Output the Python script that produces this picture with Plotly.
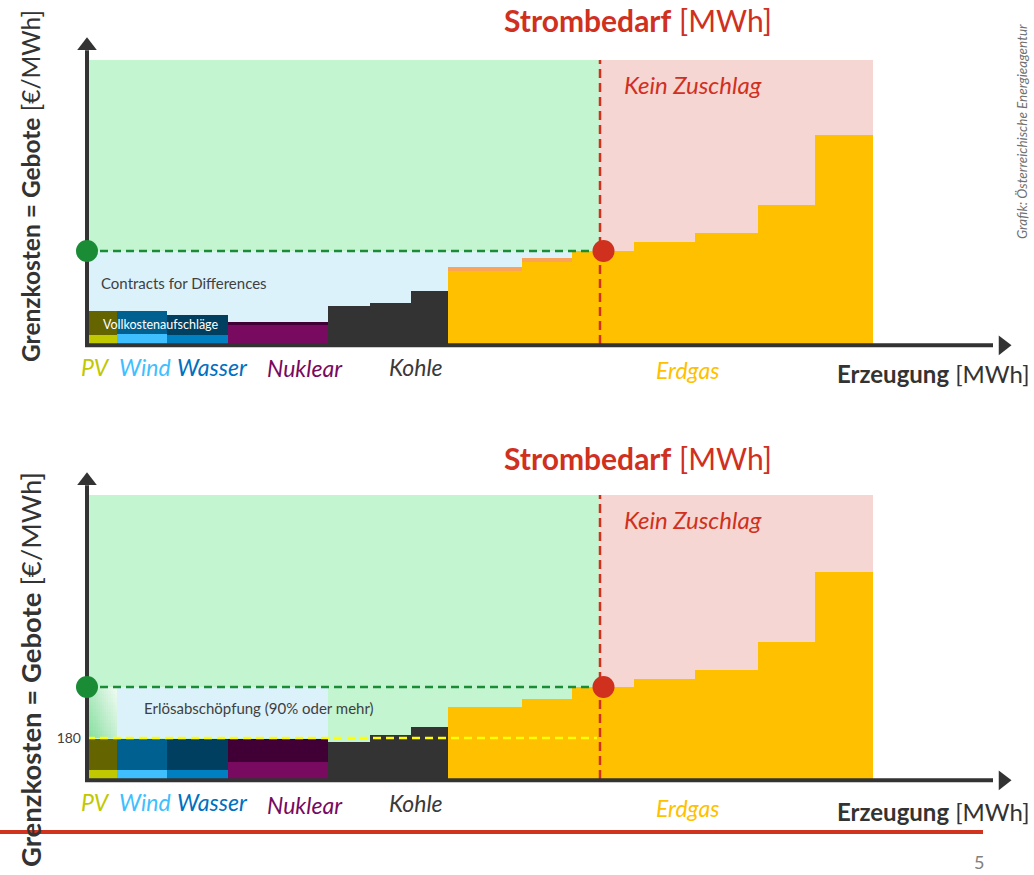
import numpy as np
import plotly.graph_objects as go

# ---------------- data (MWh widths, €/MWh prices; schematic) ----------------
renew_names = ["PV", "Wind", "Wasser", "Nuklear"]
renew_width = [3.0, 5.0, 6.1, 10.0]
top_full_cost = [145, 145, 128, 97]        # incl. Vollkostenaufschläge
top_marginal = [40, 44, 40, 84]
bot_cap = [180, 180, 180, 180]             # Erlösobergrenze
bot_marginal = [40, 40, 40, 75]

kohle_width = [4.2, 4.1, 3.7]
kohle_top = [167, 180, 233]
kohle_bot = [163, 198, 229]

gas_width = [7.4, 5.0, 6.2, 6.1, 6.3, 5.7, 5.8]
gas_top = [321, 361, 409, 449, 488, 612, 920]
gas_top_extra = [18, 17, 0, 0, 0, 0, 0]
gas_bot = [317, 356, 405, 444, 484, 607, 911]

demand = 51.3            # Strombedarf [MWh]
price_top = 409          # Grenzpreis oben
price_bot = 405          # Grenzpreis unten
cap_price = 180          # Erlösobergrenze
cfd_end = 48.5           # Ende CfD-Bereich
chart_top = 1250
axis_top = 1312
axis_right = 91.6

label_names = ["PV", "Wind", "Wasser", "Nuklear", "Kohle", "Erdgas"]
label_x = [0.8, 5.8, 12.5, 21.8, 32.9, 60.0]
label_y_top = [-101, -101, -101, -106, -101, -114]
label_y_bot = [-101, -101, -101, -114, -106, -128]
label_colors = ["#bfc800", "#40bfff", "#0070c0", "#780a60", "#3a3a3a", "#ffc000"]

renew_dark = ["#646400", "#006090", "#003f60", "#400035"]
renew_light = ["#c0c800", "#40bfff", "#0080c0", "#780a60"]
KOHLE = "#333333"
GAS = "#ffc000"
GAS_EXTRA = "#f9a35b"
GREEN_BG = "#c3f5d1"
PINK_BG = "#f5d6d2"
BLUE_BG = "#dcf2fb"
GREEN = "#1a8c35"
RED = "#d0301e"
AXIS = "#333333"
FONT = "Lato"

def edges(widths, start=0.0):
    left = start + np.concatenate([[0], np.cumsum(widths)[:-1]])
    return left, left + np.array(widths)

r_left, r_right = edges(renew_width)
k_left, k_right = edges(kohle_width, r_right[-1])
g_left, g_right = edges(gas_width, k_right[-1])

fig = go.Figure()

def bars(left, right, heights, colors, base, xa, ya):
    left = np.asarray(left); right = np.asarray(right)
    fig.add_trace(go.Bar(x=(left + right) / 2, y=heights, width=right - left, base=base,
                         marker=dict(color=colors, line=dict(width=0)),
                         xaxis=xa, yaxis=ya, hoverinfo="skip", showlegend=False))

def chart(xa, ya, full, marg, kohle, gas, gas_extra, price, xref, yref, top_chart):
    # backgrounds
    fig.add_shape(type="rect", x0=0, x1=demand, y0=0, y1=chart_top, xref=xref, yref=yref,
                  fillcolor=GREEN_BG, line_width=0, layer="below")
    fig.add_shape(type="rect", x0=demand, x1=g_right[-1], y0=0, y1=chart_top, xref=xref, yref=yref,
                  fillcolor=PINK_BG, line_width=0, layer="below")
    if top_chart:
        fig.add_shape(type="rect", x0=0, x1=cfd_end, y0=0, y1=price, xref=xref, yref=yref,
                      fillcolor=BLUE_BG, line_width=0, layer="below")
    else:
        fig.add_shape(type="rect", x0=r_right[0], x1=r_right[-1], y0=cap_price, y1=price,
                      xref=xref, yref=yref, fillcolor=BLUE_BG, line_width=0, layer="below")
        n = 14
        xs = np.linspace(0, r_right[0], n + 1)
        ys = np.linspace(cap_price, price, n + 1)
        u = (np.arange(n) + 0.5) / n
        z = (u[None, :] * 0.6 + u[:, None] * 0.4)
        fig.add_trace(go.Heatmap(x=xs, y=ys, z=z, colorscale=[[0, "#86df9f"], [1, "#eefaf1"]],
                                 showscale=False, xaxis=xa, yaxis=ya, hoverinfo="skip"))
    # renewables + nuclear
    bars(r_left, r_right, full, renew_dark, [0] * 4, xa, ya)
    bars(r_left, r_right, marg, renew_light, [0] * 4, xa, ya)
    bars(k_left, k_right, kohle, [KOHLE] * 3, [0] * 3, xa, ya)
    bars(g_left, g_right, gas, [GAS] * 7, [0] * 7, xa, ya)
    if gas_extra is not None:
        bars(g_left, g_right, gas_extra, [GAS_EXTRA] * 7, gas, xa, ya)
    # price lines
    if not top_chart:
        fig.add_trace(go.Scatter(x=[0, demand - 0.3], y=[cap_price, cap_price], mode="lines",
                                 line=dict(color="#ffff00", width=2.5, dash="8px,5px"),
                                 xaxis=xa, yaxis=ya, hoverinfo="skip", showlegend=False))
    fig.add_trace(go.Scatter(x=[0, demand], y=[price, price], mode="lines",
                             line=dict(color=GREEN, width=2.5, dash="8px,5px"),
                             xaxis=xa, yaxis=ya, hoverinfo="skip", showlegend=False))
    fig.add_trace(go.Scatter(x=[demand, demand], y=[0, chart_top], mode="lines",
                             line=dict(color=RED, width=2.5, dash="9px,5px"),
                             xaxis=xa, yaxis=ya, hoverinfo="skip", showlegend=False))
    # axes
    fig.add_trace(go.Scatter(x=[0, 0, axis_right - 1], y=[axis_top - 20, -6, -6], mode="lines",
                             line=dict(color=AXIS, width=4),
                             xaxis=xa, yaxis=ya, hoverinfo="skip", showlegend=False))
    fig.add_trace(go.Scatter(x=[0], y=[axis_top], mode="markers",
                             marker=dict(symbol="triangle-up", size=17, color=AXIS),
                             xaxis=xa, yaxis=ya, hoverinfo="skip", showlegend=False))
    fig.add_trace(go.Scatter(x=[axis_right], y=[-6], mode="markers",
                             marker=dict(symbol="triangle-right", size=17, color=AXIS),
                             xaxis=xa, yaxis=ya, hoverinfo="skip", showlegend=False))
    # dots
    fig.add_trace(go.Scatter(x=[0, demand + 0.35], y=[price, price], mode="markers",
                             marker=dict(size=22, color=[GREEN, RED], line=dict(width=0)),
                             xaxis=xa, yaxis=ya, hoverinfo="skip", showlegend=False))
    # labels
    ly = label_y_top if top_chart else label_y_bot
    for name, x, y, c in zip(label_names, label_x, ly, label_colors):
        fig.add_annotation(x=x, y=y, xref=xref, yref=yref, text=f"<i>{name}</i>", showarrow=False,
                           font=dict(family=FONT, size=23, color=c), xanchor="center", yanchor="middle")
    fig.add_annotation(x=demand + 2.2, y=chart_top - 110, xref=xref, yref=yref, text="<i>Kein Zuschlag</i>",
                       showarrow=False, font=dict(family=FONT, size=24, color=RED),
                       xanchor="left", yanchor="middle")
    if top_chart:
        fig.add_annotation(x=1.2, y=268, xref=xref, yref=yref, text="Contracts for Differences",
                           showarrow=False, font=dict(family=FONT, size=15, color="#404040"),
                           xanchor="left", yanchor="middle")
        fig.add_annotation(x=1.4, y=84, xref=xref, yref=yref, text="Vollkostenaufschläge",
                           showarrow=False, font=dict(family=FONT, size=12.5, color="#ffffff"),
                           xanchor="left", yanchor="middle")
    else:
        fig.add_annotation(x=5.5, y=312, xref=xref, yref=yref, text="Erlösabschöpfung (90% oder mehr)",
                           showarrow=False, font=dict(family=FONT, size=15, color="#404040"),
                           xanchor="left", yanchor="middle")

chart("x", "y", top_full_cost, top_marginal, kohle_top, gas_top, gas_top_extra, price_top, "x", "y", True)
chart("x2", "y2", bot_cap, bot_marginal, kohle_bot, gas_bot, None, price_bot, "x2", "y2", False)

W, H = 1034, 875
px_per_mwh = 10.0
eur_per_px = 4.4
x0_px = 87
xr = [-x0_px / px_per_mwh, (W - x0_px) / px_per_mwh]
top_zero_px, bot_zero_px = 344, 779
yr_top = [-(H / 2 - top_zero_px) * eur_per_px, top_zero_px * eur_per_px]
yr_bot = [-(H - bot_zero_px) * eur_per_px, (bot_zero_px - H / 2) * eur_per_px]

hidden = dict(showgrid=False, zeroline=False, showticklabels=False, ticks="", showline=False, fixedrange=True)
fig.update_layout(
    width=W, height=H, margin=dict(l=0, r=0, t=0, b=0),
    paper_bgcolor="white", plot_bgcolor="rgba(0,0,0,0)",
    barmode="overlay", bargap=0, showlegend=False,
    xaxis=dict(domain=[0, 1], range=xr, anchor="y", **hidden),
    yaxis=dict(domain=[0.5, 1], range=yr_top, anchor="x", **hidden),
    xaxis2=dict(domain=[0, 1], range=xr, anchor="y2", **hidden),
    yaxis2=dict(domain=[0, 0.5], range=yr_bot, anchor="free", position=x0_px / W,
                showgrid=False, zeroline=False, showline=False, ticks="", fixedrange=True,
                tickmode="array", tickvals=[cap_price], ticktext=[str(cap_price)],
                tickfont=dict(family=FONT, size=14, color="#404040"), ticklabelstandoff=6),
    font=dict(family=FONT),
)

# titles
for yc in [20 / H, 458 / H]:
    fig.add_annotation(x=638 / W, y=1 - yc, xref="paper", yref="paper",
                       text="<b>Strombedarf</b> [MWh]", showarrow=False,
                       font=dict(family=FONT, size=30, color=RED), xanchor="center", yanchor="middle")
for yc in [373 / H, 811 / H]:
    fig.add_annotation(x=1032 / W, y=1 - yc, xref="paper", yref="paper",
                       text="<b>Erzeugung</b> [MWh]", showarrow=False,
                       font=dict(family=FONT, size=24, color="#333333"), xanchor="right", yanchor="middle")
for yc, fs in [(186 / H, 24.5), (670 / H, 27.5)]:
    fig.add_annotation(x=30 / W, y=1 - yc, xref="paper", yref="paper", textangle=-90,
                       text="<b>Grenzkosten = Gebote</b> [€/MWh]", showarrow=False,
                       font=dict(family=FONT, size=fs, color="#333333"), xanchor="center", yanchor="middle")
fig.add_annotation(x=1022 / W, y=1 - 132 / H, xref="paper", yref="paper", textangle=-90,
                   text="<i>Grafik: Österreichische Energieagentur</i>", showarrow=False,
                   font=dict(family=FONT, size=13.5, color="#707070"), xanchor="center", yanchor="middle")
fig.add_shape(type="line", x0=0, x1=983 / W, y0=1 - 832 / H, y1=1 - 832 / H, xref="paper", yref="paper",
              line=dict(color="#d0341e", width=4))
fig.add_annotation(x=979 / W, y=1 - 862 / H, xref="paper", yref="paper", text="5", showarrow=False,
                   font=dict(family=FONT, size=18, color="#808080"), xanchor="center", yanchor="middle")

fig.write_html("out.html", config={"displayModeBar": False},
               post_script="document.body.style.margin='0';document.body.style.padding='0';"
                           "document.documentElement.style.overflow='hidden';")
